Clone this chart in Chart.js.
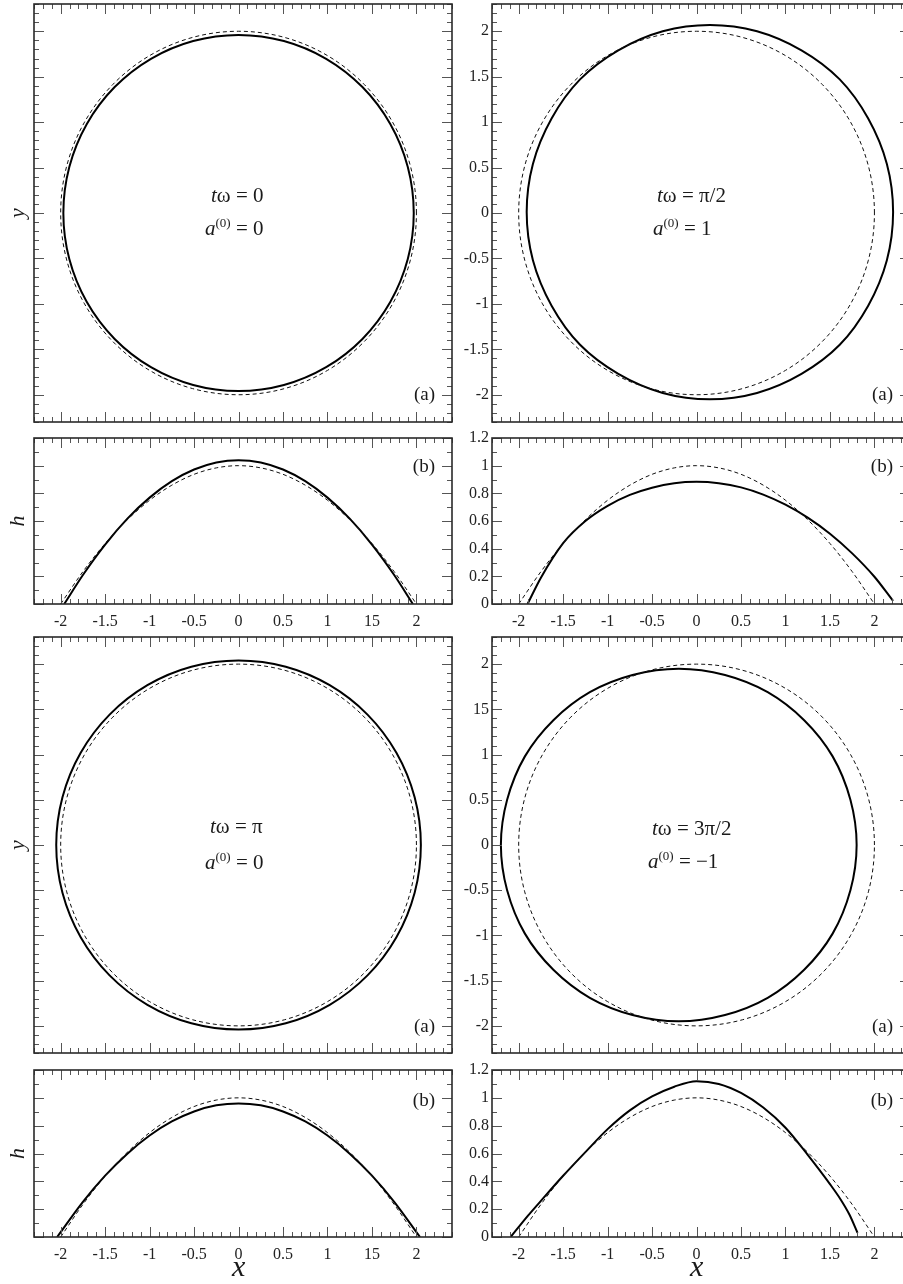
<!DOCTYPE html>
<html>
<head>
<meta charset="utf-8">
<script src="https://cdn.jsdelivr.net/npm/chart.js@4.4.1/dist/chart.umd.min.js"></script>
<style>
  html, body { margin: 0; padding: 0; background: #fff; overflow: hidden; }
  body { width: 903px; height: 1284px; position: relative; }
  canvas { position: absolute; }
</style>
</head>
<body>
<canvas id="c1" width="470" height="430" style="left:0;top:0"></canvas>
<canvas id="c2" width="470" height="200" style="left:0;top:430px"></canvas>
<canvas id="c3" width="470" height="430" style="left:0;top:630px"></canvas>
<canvas id="c4" width="470" height="224" style="left:0;top:1060px"></canvas>
<canvas id="c5" width="470" height="430" style="left:450px;top:0"></canvas>
<canvas id="c6" width="470" height="200" style="left:450px;top:430px"></canvas>
<canvas id="c7" width="470" height="430" style="left:450px;top:630px"></canvas>
<canvas id="c8" width="470" height="224" style="left:450px;top:1060px"></canvas>
<script>
// tick values and labels (the original figure has "15" typos on some axes)
const xTicks = [-2, -1.5, -1, -0.5, 0, 0.5, 1, 1.5, 2];
const xLabelsLeft = ['-2', '-1.5', '-1', '-0.5', '0', '0.5', '1', '15', '2'];
const xLabelsRight = ['-2', '-1.5', '-1', '-0.5', '0', '0.5', '1', '1.5', '2'];
const circleYTicks = [-2, -1.5, -1, -0.5, 0, 0.5, 1, 1.5, 2];
const circleYLabelsTop = ['-2', '-1.5', '-1', '-0.5', '0', '0.5', '1', '1.5', '2'];
const circleYLabelsBottom = ['-2', '-1.5', '-1', '-0.5', '0', '0.5', '1', '15', '2'];
const hTicks = [0, 0.2, 0.4, 0.6, 0.8, 1, 1.2];
const hLabels = ['0', '0.2', '0.4', '0.6', '0.8', '1', '1.2'];

// panel captions
const phases = ['0', 'π/2', 'π', '3π/2'];
const amps = ['0', '1', '0', '−1'];

// dashed reference contact line (radius 2), closed loop
const refCircle = [
  [2, 0], [1.932, 0.518], [1.732, 1], [1.414, 1.414], [1, 1.732], [0.518, 1.932],
  [0, 2], [-0.518, 1.932], [-1, 1.732], [-1.414, 1.414], [-1.732, 1], [-1.932, 0.518],
  [-2, 0], [-1.932, -0.518], [-1.732, -1], [-1.414, -1.414], [-1, -1.732], [-0.518, -1.932],
  [0, -2], [0.518, -1.932], [1, -1.732], [1.414, -1.414], [1.732, -1], [1.932, -0.518]
];
// dashed reference profile
const refProfile = [
  [-2, 0], [-1.75, 0.234], [-1.5, 0.4375], [-1.25, 0.609], [-1, 0.75], [-0.75, 0.859],
  [-0.5, 0.9375], [-0.25, 0.984], [0, 1], [0.25, 0.984], [0.5, 0.9375], [0.75, 0.859],
  [1, 0.75], [1.25, 0.609], [1.5, 0.4375], [1.75, 0.234], [2, 0]
];

// t*omega = 0
const circleA = [
  [1.97, 0], [1.903, 0.507], [1.706, 0.98], [1.393, 1.386], [0.985, 1.697], [0.51, 1.893],
  [0, 1.96], [-0.51, 1.893], [-0.985, 1.697], [-1.393, 1.386], [-1.706, 0.98], [-1.903, 0.507],
  [-1.97, 0], [-1.903, -0.507], [-1.706, -0.98], [-1.393, -1.386], [-0.985, -1.697],
  [-0.51, -1.893], [0, -1.96], [0.51, -1.893], [0.985, -1.697], [1.393, -1.386],
  [1.706, -0.98], [1.903, -0.507]
];
const profileA = [
  [-1.96, 0], [-1.75, 0.21], [-1.5, 0.43], [-1.25, 0.617], [-1, 0.769], [-0.75, 0.888],
  [-0.5, 0.972], [-0.25, 1.023], [0, 1.04], [0.25, 1.023], [0.5, 0.972], [0.75, 0.888],
  [1, 0.769], [1.25, 0.617], [1.5, 0.43], [1.75, 0.21], [1.96, 0]
];

// t*omega = pi/2
const circleB = [
  [2.21, 0.01], [2.14, 0.54], [1.93, 1.04], [1.61, 1.47], [1.18, 1.79], [0.68, 2.0],
  [0.15, 2.07], [-0.38, 2.0], [-0.88, 1.79], [-1.31, 1.47], [-1.63, 1.04], [-1.84, 0.54],
  [-1.91, 0.01], [-1.84, -0.52], [-1.63, -1.02], [-1.31, -1.45], [-0.88, -1.77],
  [-0.38, -1.98], [0.15, -2.05], [0.68, -1.98], [1.18, -1.77], [1.61, -1.45],
  [1.93, -1.02], [2.14, -0.52]
];
const profileB = [
  [-1.9, 0], [-1.75, 0.19], [-1.5, 0.44], [-1.25, 0.6], [-1, 0.71],
  [-0.75, 0.789], [-0.5, 0.841], [-0.25, 0.873], [0, 0.883], [0.25, 0.873], [0.5, 0.843],
  [0.75, 0.791], [1, 0.718], [1.25, 0.624], [1.5, 0.508], [1.75, 0.366], [2, 0.197],
  [2.21, 0.022]
];

// t*omega = pi
const circleC = [
  [2.05, 0], [1.98, 0.528], [1.775, 1.02], [1.45, 1.442], [1.025, 1.767], [0.531, 1.971],
  [0, 2.04], [-0.531, 1.971], [-1.025, 1.767], [-1.45, 1.442], [-1.775, 1.02], [-1.98, 0.528],
  [-2.05, 0], [-1.98, -0.528], [-1.775, -1.02], [-1.45, -1.442], [-1.025, -1.767],
  [-0.531, -1.971], [0, -2.04], [0.531, -1.971], [1.025, -1.767], [1.45, -1.442],
  [1.775, -1.02], [1.98, -0.528]
];
const profileC = [
  [-2.04, 0], [-1.75, 0.253], [-1.5, 0.441], [-1.25, 0.599], [-1, 0.729], [-0.75, 0.83],
  [-0.5, 0.902], [-0.25, 0.946], [0, 0.96], [0.25, 0.946], [0.5, 0.902], [0.75, 0.83],
  [1, 0.729], [1.25, 0.599], [1.5, 0.441], [1.75, 0.253], [2.04, 0]
];

// t*omega = 3pi/2
const circleD = [
  [1.8, 0], [1.73, 0.5], [1.53, 0.98], [1.21, 1.38], [0.8, 1.69], [0.32, 1.88],
  [-0.2, 1.95], [-0.72, 1.88], [-1.2, 1.69], [-1.61, 1.38], [-1.93, 0.98], [-2.13, 0.5],
  [-2.2, 0], [-2.13, -0.5], [-1.93, -0.98], [-1.61, -1.38], [-1.2, -1.69], [-0.72, -1.88],
  [-0.2, -1.95], [0.32, -1.88], [0.8, -1.69], [1.21, -1.38], [1.53, -0.98], [1.73, -0.5]
];
const profileD = [
  [-2.09, 0], [-1.9, 0.15], [-1.75, 0.26], [-1.5, 0.44], [-1.25, 0.61], [-1, 0.775],
  [-0.75, 0.91], [-0.5, 1.01], [-0.25, 1.08], [0, 1.12], [0.25, 1.1], [0.5, 1.035],
  [0.75, 0.93], [1, 0.785], [1.25, 0.59], [1.5, 0.38], [1.62, 0.27], [1.72, 0.16], [1.81, 0.03]
];

const SERIF = '"Liberation Serif", "Times New Roman", serif';
const toXY = pts => pts.map(p => ({ x: p[0], y: p[1] }));

// make the contact-line datasets closed smooth loops
const closeLoop = {
  id: 'closeLoop',
  afterDatasetUpdate(chart, args, o) {
    const line = args.meta.dataset;
    if (!o.on || !line) return;
    line._loop = true;
    line._fullLoop = true;
    line._pointsUpdated = false;
    delete line._segments;
    line._path = undefined;
    line.updateControlPoints(chart.chartArea, 'x');
  }
};

// frame with inward major/minor ticks on all four sides
const frameTicks = {
  id: 'frameTicks',
  afterDatasetsDraw(chart, args, o) {
    const { ctx, chartArea: a, scales: { x, y } } = chart;
    ctx.save();
    ctx.strokeStyle = '#555';
    ctx.lineWidth = 1;
    ctx.beginPath();
    for (let i = Math.ceil(x.min * 10 - 1e-6); i <= Math.floor(x.max * 10 + 1e-6); i++) {
      const px = Math.round(x.getPixelForValue(i / 10)) + 0.5;
      const len = i % 5 === 0 ? 10 : 5;
      ctx.moveTo(px, a.bottom); ctx.lineTo(px, a.bottom - len);
      ctx.moveTo(px, a.top); ctx.lineTo(px, a.top + len);
    }
    for (let i = Math.ceil(y.min * 10 - 1e-6); i <= Math.floor(y.max * 10 + 1e-6); i++) {
      const py = Math.round(y.getPixelForValue(i / 10)) + 0.5;
      const len = i % o.major === 0 ? 10 : 5;
      ctx.moveTo(a.left, py); ctx.lineTo(a.left + len, py);
      ctx.moveTo(a.right, py); ctx.lineTo(a.right - len, py);
    }
    ctx.stroke();
    ctx.strokeStyle = '#2a2a2a';
    ctx.lineWidth = 1.6;
    ctx.strokeRect(a.left, a.top, a.right - a.left, a.bottom - a.top);
    ctx.restore();
  }
};

function runs(ctx, x, y, parts) {
  ctx.textAlign = 'left';
  ctx.textBaseline = 'alphabetic';
  for (const [txt, font, dy] of parts) {
    ctx.font = font;
    ctx.fillText(txt, x, y + (dy || 0));
    x += ctx.measureText(txt).width;
  }
}

// captions, panel tags and axis titles
const notes = {
  id: 'notes',
  afterDraw(chart, args, o) {
    const { ctx, chartArea: a } = chart;
    ctx.save();
    ctx.fillStyle = '#1a1a1a';
    if (o.phase) {
      const big = '21px ' + SERIF, it = 'italic 21px ' + SERIF, sup = '13px ' + SERIF;
      runs(ctx, a.left + o.tx, a.top + o.ty, [['t', it], ['ω', big], [' = ' + o.phase, big]]);
      runs(ctx, a.left + o.ax, a.top + o.ay, [['a', it], ['(0)', sup, -8], [' = ' + o.amp, big]]);
    }
    if (o.tag) {
      ctx.font = '19px ' + SERIF;
      ctx.textAlign = 'right';
      ctx.textBaseline = 'middle';
      ctx.fillText(o.tag, a.right - 17, o.tagY > 0 ? a.top + o.tagY : a.bottom + o.tagY);
    }
    if (o.yTitle) {
      ctx.save();
      ctx.translate(18, (a.top + a.bottom) / 2);
      ctx.rotate(-Math.PI / 2);
      ctx.font = 'italic 22px ' + SERIF;
      ctx.textAlign = 'center';
      ctx.textBaseline = 'middle';
      ctx.fillText(o.yTitle, 0, 0);
      ctx.restore();
    }
    if (o.xTitle) {
      ctx.font = 'italic 30px ' + SERIF;
      ctx.textAlign = 'center';
      ctx.textBaseline = 'middle';
      ctx.fillText(o.xTitle, chart.scales.x.getPixelForValue(0), a.bottom + 31);
    }
    ctx.restore();
  }
};

function panel(id, cfg) {
  const isProfile = cfg.kind === 'h';
  const yVals = isProfile ? hTicks : circleYTicks;
  const curve = isProfile ? { cubicInterpolationMode: 'monotone' } : { tension: 0.34 };
  new Chart(document.getElementById(id), {
    type: 'scatter',
    data: {
      datasets: [
        { data: toXY(cfg.ref), showLine: true, borderColor: '#111', borderWidth: 1,
          borderDash: [4, 3], pointRadius: 0, ...curve },
        { data: toXY(cfg.line), showLine: true, borderColor: '#000', borderWidth: 2,
          pointRadius: 0, ...curve }
      ]
    },
    options: {
      responsive: false,
      animation: false,
      devicePixelRatio: 1,
      events: [],
      layout: { padding: { top: cfg.padTop, right: cfg.padRight, left: 0, bottom: 0 } },
      scales: {
        x: {
          type: 'linear', min: -2.3, max: 2.4,
          afterBuildTicks: s => { s.ticks = xTicks.map(v => ({ value: v })); },
          afterFit: s => { s.height = cfg.xH; s.paddingLeft = 0; s.paddingRight = 0; },
          grid: { display: false, drawTicks: false },
          border: { display: false },
          ticks: {
            display: !!cfg.xLabels, autoSkip: false, maxRotation: 0, padding: 8,
            color: '#222', font: { family: SERIF, size: 16 },
            callback: (v, i) => cfg.xLabels ? cfg.xLabels[i] : ''
          }
        },
        y: {
          type: 'linear',
          min: isProfile ? 0 : -2.3, max: isProfile ? 1.2 : 2.3,
          afterBuildTicks: s => { s.ticks = yVals.map(v => ({ value: v })); },
          afterFit: s => { s.width = cfg.yW; s.paddingTop = 0; s.paddingBottom = 0; },
          grid: { display: false, drawTicks: false },
          border: { display: false },
          ticks: {
            display: !!cfg.yLabels, autoSkip: false, padding: 3,
            color: '#222', font: { family: SERIF, size: 16 },
            callback: (v, i) => cfg.yLabels ? cfg.yLabels[i] : ''
          }
        }
      },
      plugins: {
        legend: { display: false },
        tooltip: { enabled: false },
        closeLoop: { on: !isProfile },
        frameTicks: { major: isProfile ? 2 : 5 },
        notes: cfg.notes
      }
    },
    plugins: [closeLoop, frameTicks, notes]
  });
}

const left = { yW: 34, padRight: 18 };
const right = { yW: 42, padRight: 10 };

panel('c1', { ...left, kind: 'c', ref: refCircle, line: circleA, padTop: 4, xH: 8,
  notes: { phase: phases[0], amp: amps[0], tx: 177, ty: 198, ax: 171, ay: 231, tag: '(a)', tagY: -27, yTitle: 'y' } });
panel('c2', { ...left, kind: 'h', ref: refProfile, line: profileA, padTop: 8, xH: 26, xLabels: xLabelsLeft,
  notes: { tag: '(b)', tagY: 29, yTitle: 'h' } });
panel('c3', { ...left, kind: 'c', ref: refCircle, line: circleC, padTop: 7, xH: 7,
  notes: { phase: phases[2], amp: amps[2], tx: 176, ty: 196, ax: 171, ay: 232, tag: '(a)', tagY: -26, yTitle: 'y' } });
panel('c4', { ...left, kind: 'h', ref: refProfile, line: profileC, padTop: 10, xH: 47, xLabels: xLabelsLeft,
  notes: { tag: '(b)', tagY: 31, yTitle: 'h', xTitle: 'x' } });

panel('c5', { ...right, kind: 'c', ref: refCircle, line: circleB, padTop: 4, xH: 8, yLabels: circleYLabelsTop,
  notes: { phase: phases[1], amp: amps[1], tx: 165, ty: 198, ax: 161, ay: 231, tag: '(a)', tagY: -27 } });
panel('c6', { ...right, kind: 'h', ref: refProfile, line: profileB, padTop: 8, xH: 26,
  xLabels: xLabelsRight, yLabels: hLabels, notes: { tag: '(b)', tagY: 29 } });
panel('c7', { ...right, kind: 'c', ref: refCircle, line: circleD, padTop: 7, xH: 7, yLabels: circleYLabelsBottom,
  notes: { phase: phases[3], amp: amps[3], tx: 160, ty: 198, ax: 156, ay: 231, tag: '(a)', tagY: -26 } });
panel('c8', { ...right, kind: 'h', ref: refProfile, line: profileD, padTop: 10, xH: 47,
  xLabels: xLabelsRight, yLabels: hLabels, notes: { tag: '(b)', tagY: 31, xTitle: 'x' } });
</script>
</body>
</html>
